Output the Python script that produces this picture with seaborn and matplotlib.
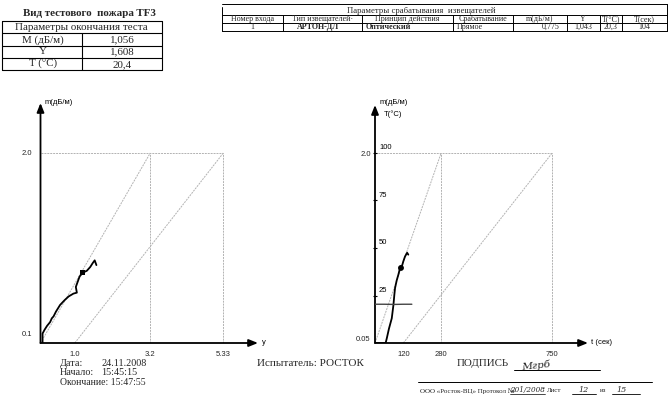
import matplotlib
matplotlib.use("Agg")
import matplotlib.pyplot as plt
import pandas as pd
import seaborn as sns

# ---- test end parameters (top-left table) ----
fire_title = "Вид тестового  пожара TF3"
end_header = "Параметры окончания теста"
end_names = ["M (дБ/м)", "Y", "T (°C)"]
end_values = ["1,056", "1,608", "20,4"]

# ---- detector response parameters (top-right table) ----
resp_title = "Параметры срабатывания  извещателей"
resp_columns = ["Номер входа", "Тип извещателей·", "Принцип действия", "Срабатывание",
                "m(дБ/м)", "Y", "T(°C)", "T(сек)"]
resp_row = ["1", "АРТОН-ДЛ", "Оптический", "Прямое", "0,775", "1,043", "20,3", "104"]

# ---- left plot: m (dB/m) versus y ----
curve_y = [0.06, 0.06, 0.12, 0.19, 0.28, 0.33, 0.38, 0.45, 0.57, 0.70, 0.82, 0.96, 1.06,
           1.03, 1.06, 1.09, 1.14, 1.23, 1.35, 1.45, 1.52, 1.58, 1.63]
curve_m = [0.00, 0.10, 0.14, 0.18, 0.22, 0.26, 0.28, 0.33, 0.40, 0.45, 0.49, 0.52, 0.53,
           0.59, 0.62, 0.65, 0.70, 0.74, 0.76, 0.80, 0.84, 0.87, 0.82]
alarm_y = [1.23]
alarm_m_left = [0.74]
y_ticks = [1.0, 3.2, 5.33]
y_tick_labels = ["1.0", "3.2", "5.33"]
m_ticks_left = [0.1, 2.0]
m_max = 2.0

# ---- right plot: m and T versus time ----
time_s = [5, 45, 50, 59, 71, 78, 82, 85, 92, 99, 106, 113, 120, 127, 136, 141]
time_m = [0.00, 0.00, 0.05, 0.15, 0.26, 0.40, 0.51, 0.58, 0.66, 0.72, 0.79, 0.80,
          0.86, 0.91, 0.95, 0.93]
temp_t = [0, 40, 80, 120, 156]
temp_T = [20.4, 20.4, 20.3, 20.4, 20.4]
alarm_t = [110]
alarm_m_right = [0.79]
t_ticks = [120, 280, 750]
T_ticks = [25, 50, 75, 100]
T_max = 100

# ---- page footer ----
date_lines = [("Дата:", "24.11.2008"), ("Начало:", "15:45:15")]
end_line = "Окончание: 15:47:55"
tester = "Испытатель: РОСТОК"

W, H = 668, 401
sns.set_theme(style="white")
plt.rcParams["font.family"] = ["Liberation Sans", "DejaVu Sans"]
fig = plt.figure(figsize=(W / 100, H / 100), dpi=100)
fig.patch.set_facecolor("white")

SERIF = ["Liberation Serif", "DejaVu Serif"]
HAND = ["DejaVu Serif"]
GRID = "#b2b2b2"
GRID_LS = (0, (2, 1))


def px_axes(x0, y_bottom, x1, y_top):
    return fig.add_axes([x0 / W, 1 - y_bottom / H, (x1 - x0) / W, (y_bottom - y_top) / H])


# page overlay in pixel coordinates for tables and captions
page = fig.add_axes([0, 0, 1, 1], zorder=-5)
page.set_xlim(0, W)
page.set_ylim(H, 0)
page.axis("off")

# top-left table
page.text(89, 13.5, fire_title, family=SERIF, weight="bold", fontsize=7.9, ha="center", va="center")
rows = [20.5, 33, 45.5, 57.5, 70]
for yy in rows:
    page.plot([2, 162], [yy, yy], color="black", lw=0.8)
page.plot([2, 2], [rows[0], rows[-1]], color="black", lw=0.8)
page.plot([162, 162], [rows[0], rows[-1]], color="black", lw=0.8)
page.plot([82, 82], [rows[1], rows[-1]], color="black", lw=0.8)
page.text(81, rows[1] - 3.2, end_header, family=SERIF, fontsize=7.9, ha="center", va="baseline")
for i, (n, v) in enumerate(zip(end_names, end_values)):
    yb = rows[i + 2] - 3.2
    page.text(43, yb, n, family=SERIF, fontsize=7.9, ha="center", va="baseline")
    page.text(122, yb, v, family=SERIF, fontsize=7.9, ha="center", va="baseline")

# top-right table
cols = [221.5, 283, 361.5, 453, 513, 566.5, 600, 621.5, 666.5]
rrows = [3.5, 15.2, 23.2, 31.2]
for yy in rrows:
    page.plot([cols[0], cols[-1]], [yy, yy], color="black", lw=0.7)
page.plot([cols[0], cols[0]], [rrows[0] + 3, rrows[-1]], color="black", lw=0.7)
page.plot([cols[-1], cols[-1]], [rrows[0], rrows[-1]], color="black", lw=0.7)
for cx in cols[1:-1]:
    page.plot([cx, cx], [rrows[1], rrows[-1]], color="black", lw=0.7)
page.text(421, rrows[1] - 2.3, resp_title, family=SERIF, fontsize=6.3, ha="center", va="baseline")
for i, name in enumerate(resp_columns):
    page.text((cols[i] + cols[i + 1]) / 2, rrows[2] - 2.0, name, family=SERIF,
              fontsize=5.8, ha="center", va="baseline")
data_align = ["center", "left", "left", "left", "right", "center", "center", "center"]
data_bold = [False, True, True, False, False, False, False, False]
for i, val in enumerate(resp_row):
    a = data_align[i]
    if a == "left":
        xx = cols[i] + 14 if i == 1 else cols[i] + 4
    elif a == "right":
        xx = cols[i + 1] - 7
    else:
        xx = (cols[i] + cols[i + 1]) / 2
    page.text(xx, rrows[3] - 2.0, val, family=SERIF, fontsize=5.8, ha=a, va="baseline",
              weight="bold" if data_bold[i] else "normal")

# captions at the bottom
for i, (k, v) in enumerate(date_lines):
    yy = 363 + i * 9.7
    page.text(60, yy, k, family=SERIF, fontsize=7.3, va="center")
    page.text(101, yy, v, family=SERIF, fontsize=7.3, va="center")
page.text(60, 382.4, end_line, family=SERIF, fontsize=7.0, va="center")
page.text(257, 363, tester, family=SERIF, fontsize=8.0, va="center")
page.text(457, 363, "ПОДПИСЬ", family=SERIF, fontsize=7.8, va="center")
page.plot([514, 600], [370, 370], color="black", lw=0.7)
page.text(521, 366, "Мгрб", family=HAND, style="italic", fontsize=7.5, va="center",
          color="#222222", rotation=6)
page.plot([418, 652], [382, 382], color="black", lw=0.7)
page.text(420, 391, "ООО «Росток-ВЦ» Протокол №", family=SERIF, fontsize=5.0, va="center")
page.text(510, 390, "201/2008", family=HAND, style="italic", fontsize=5.2, va="center")
page.plot([510, 545], [393.5, 393.5], color="black", lw=0.5)
page.text(547, 391, "Лист", family=SERIF, fontsize=5.0, va="center")
page.text(578, 390, "12", family=HAND, style="italic", fontsize=5.8, va="center")
page.plot([572, 596], [393.5, 393.5], color="black", lw=0.6)
page.text(600, 391, "из", family=SERIF, fontsize=5.0, va="center")
page.text(616, 390, "15", family=HAND, style="italic", fontsize=5.8, va="center")
page.plot([612, 640], [393.5, 393.5], color="black", lw=0.6)

LAB = dict(fontsize=5.5, color="black")


def bare(ax):
    for s in ax.spines.values():
        s.set_visible(False)
    ax.set_facecolor("none")
    ax.grid(False)
    ax.set_xlabel("")
    ax.set_ylabel("")


def arrows(ax):
    kw = dict(arrowstyle="-|>,head_length=0.45,head_width=0.18", color="black", lw=1.3,
              shrinkA=0, shrinkB=0)
    ax.annotate("", xy=(0, 1), xytext=(0, 0), xycoords="axes fraction", arrowprops=kw,
                annotation_clip=False)
    ax.annotate("", xy=(1, 0), xytext=(0, 0), xycoords="axes fraction", arrowprops=kw,
                annotation_clip=False)


# ---------- left plot ----------
axL = px_axes(40.5, 343, 258, 103)
bare(axL)
x_span = (258 - 40.5) / 34.3
axL.set_xlim(0, x_span)
axL.set_ylim(0, (343 - 103) / 95.0)

# limit lines and the boundary frame
axL.plot([0, y_ticks[1]], [0, m_max], color=GRID, lw=0.7, ls=GRID_LS)
axL.plot([y_ticks[0], y_ticks[2]], [0, m_max], color=GRID, lw=0.7, ls=GRID_LS)
axL.plot([0, y_ticks[2]], [m_max, m_max], color=GRID, lw=0.7, ls=GRID_LS)
for xv in y_ticks[1:]:
    axL.plot([xv, xv], [0, m_max], color=GRID, lw=0.7, ls=GRID_LS)

dfL = pd.DataFrame({"y": curve_y, "m": curve_m})
sns.lineplot(data=dfL, x="y", y="m", sort=False, estimator=None, color="black", lw=1.3, ax=axL)
sns.scatterplot(x=alarm_y, y=alarm_m_left, color="black", s=16, marker="s", ax=axL, zorder=5,
                edgecolor="none")
bare(axL)
axL.set_xticks(y_ticks)
axL.set_xticklabels(y_tick_labels)
axL.set_yticks(m_ticks_left)
axL.set_yticklabels(["0.1", "2.0"])
axL.tick_params(length=0, labelsize=5.5, pad=6)
arrows(axL)
axL.text(1.0 + 0.018, 0.0, "y", transform=axL.transAxes, ha="left", va="center", **LAB)
axL.text(0.02, 1.0, "m(дБ/м)", transform=axL.transAxes, ha="left", va="center", **LAB)

# ---------- right plot ----------
axR = px_axes(375, 343, 588, 105)
bare(axR)
t_span = (588 - 375) / 0.2362
m_top = (343 - 105) / 95.0
axR.set_xlim(0, t_span)
axR.set_ylim(0, m_top)
axR.plot([0, t_ticks[1]], [0, m_max], color=GRID, lw=0.7, ls=GRID_LS)
axR.plot([t_ticks[0], t_ticks[2]], [0, m_max], color=GRID, lw=0.7, ls=GRID_LS)
axR.plot([0, t_ticks[2]], [m_max, m_max], color=GRID, lw=0.7, ls=GRID_LS)
for xv in t_ticks[1:]:
    axR.plot([xv, xv], [0, m_max], color=GRID, lw=0.7, ls=GRID_LS)

dfR = pd.DataFrame({"t": time_s, "m": time_m})
sns.lineplot(data=dfR, x="t", y="m", sort=False, estimator=None, color="black", lw=1.3, ax=axR)
sns.scatterplot(x=alarm_t, y=alarm_m_right, color="black", s=18, ax=axR, zorder=5, edgecolor="none")
bare(axR)
axR.set_xticks(t_ticks)
axR.set_xticklabels([str(v) for v in t_ticks])
axR.set_yticks([0.05, 2.0])
axR.set_yticklabels(["0.05", "2.0"])
axR.tick_params(length=0, labelsize=5.5, pad=3)
axR.tick_params(axis="x", pad=6)

axT = axR.twinx()
axT.set_ylim(0, m_top * T_max / m_max)
axT.set_xlim(0, t_span)
dfT = pd.DataFrame({"t": temp_t, "T": temp_T})
sns.lineplot(data=dfT, x="t", y="T", color="#444444", lw=1.0, ax=axT)
bare(axT)
axT.yaxis.set_ticks_position("left")
axT.set_yticks(T_ticks)
axT.tick_params(axis="y", direction="inout", length=3, width=0.8, color="black",
                labelleft=False, labelright=False)
for v in T_ticks:
    axT.text(4 / 0.2362, v + 0.8, str(v), ha="left", va="bottom", **LAB)
arrows(axR)
axR.text(1.0 + 0.015, 0.0, "t (сек)", transform=axR.transAxes, ha="left", va="center", **LAB)
axR.text(0.02, 1.01, "m(дБ/м)", transform=axR.transAxes, ha="left", va="center", **LAB)
axR.text(0.04, 0.96, "T(°C)", transform=axR.transAxes, ha="left", va="center", **LAB)

fig.savefig("out.png", dpi=100, facecolor="white")
